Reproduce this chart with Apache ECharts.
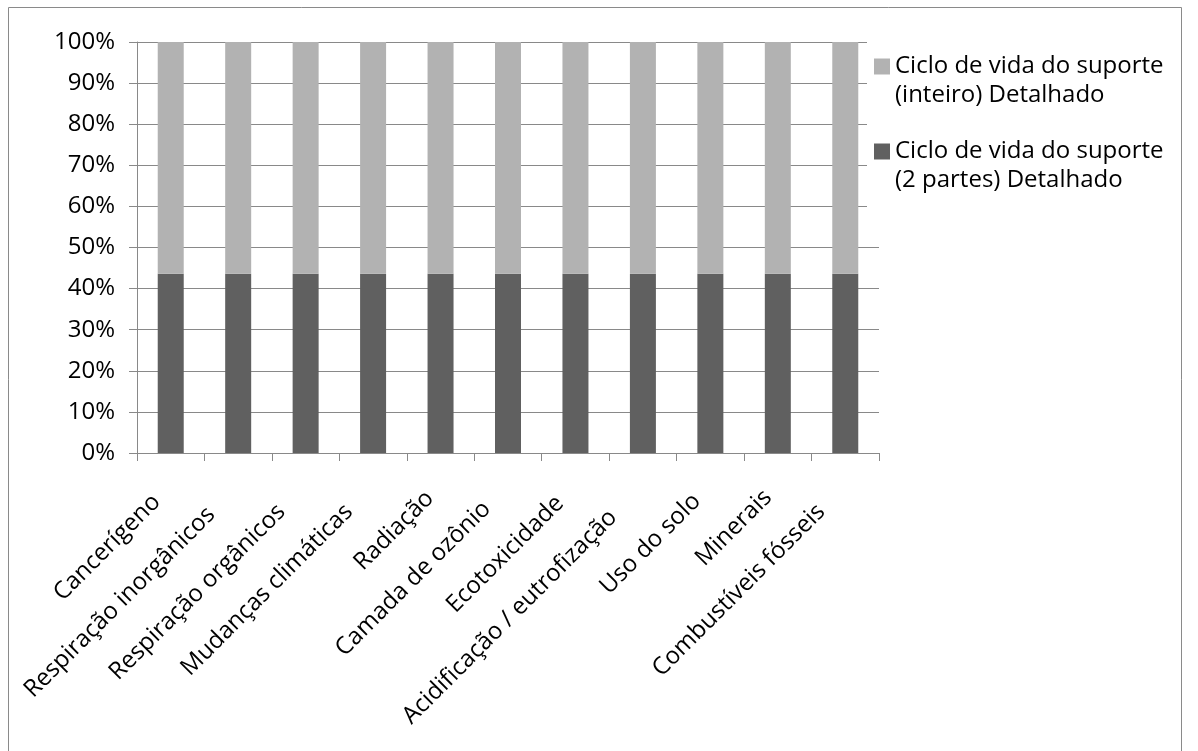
<!DOCTYPE html>
<html>
<head>
<meta charset="utf-8">
<script src="https://cdn.jsdelivr.net/npm/echarts@6/dist/echarts.min.js"></script>
<style>
  html, body { margin: 0; padding: 0; background: #ffffff; }
  #chart { width: 1198px; height: 751px; }
</style>
</head>
<body>
<div id="chart"></div>
<script>
// Impact categories along the x axis
var categories = [
  'Cancerígeno',
  'Respiração inorgânicos',
  'Respiração orgânicos',
  'Mudanças climáticas',
  'Radiação',
  'Camada de ozônio',
  'Ecotoxicidade',
  'Acidificação / eutrofização',
  'Uso do solo',
  'Minerais',
  'Combustíveis fósseis'
];

// Share (%) of each life-cycle variant in every category
var suporte2Partes = [43.6, 43.6, 43.6, 43.6, 43.6, 43.6, 43.6, 43.6, 43.6, 43.6, 43.6];
var suporteInteiro = [56.4, 56.4, 56.4, 56.4, 56.4, 56.4, 56.4, 56.4, 56.4, 56.4, 56.4];

var seriesNames = [
  'Ciclo de vida do suporte\n(inteiro) Detalhado',
  'Ciclo de vida do suporte\n(2 partes) Detalhado'
];

var FONT = '"Open Sans", "Liberation Sans", sans-serif';
var FONT_SIZE = 24;
var AXIS_GRAY = '#898989';

// Rotated category labels stop a little short of their tick, the longer
// the label the further back along its slant; build one rich style per label.
var measureCtx = document.createElement('canvas').getContext('2d');
measureCtx.font = FONT_SIZE + 'px ' + FONT;
var labelRich = {};
categories.forEach(function (name, i) {
  var w = measureCtx.measureText(name).width;
  labelRich['l' + i] = {
    fontFamily: FONT,
    fontSize: FONT_SIZE,
    color: '#000000',
    padding: [0, Math.round(w * 0.145), 0, 0]
  };
});

var chart = echarts.init(document.getElementById('chart'), null, { renderer: 'canvas' });

chart.setOption({
  animation: false,
  backgroundColor: '#ffffff',
  textStyle: { fontFamily: FONT },
  grid: { left: 137, right: 319, top: 42, bottom: 298, containLabel: false },
  legend: {
    orient: 'vertical',
    left: 867,
    top: 20,
    padding: [3, 6, 14, 7],
    backgroundColor: '#ffffff',
    itemWidth: 16,
    itemHeight: 16,
    itemGap: -2,
    icon: 'rect',
    data: [seriesNames[0], seriesNames[1]],
    // a blank leading line keeps the swatch level with the first text line
    formatter: function (name) {
      return '\n' + name;
    },
    textStyle: {
      fontFamily: FONT,
      fontSize: FONT_SIZE,
      color: '#000000',
      lineHeight: 29
    }
  },
  xAxis: {
    type: 'category',
    data: categories,
    boundaryGap: true,
    axisLine: { show: true, lineStyle: { color: AXIS_GRAY, width: 1 } },
    axisTick: { show: true, alignWithLabel: false, length: 8, lineStyle: { color: AXIS_GRAY } },
    splitLine: { show: false },
    axisLabel: {
      interval: 0,
      rotate: 45,
      margin: 31,
      fontFamily: FONT,
      fontSize: FONT_SIZE,
      color: '#000000',
      formatter: function (value, index) {
        return '{l' + index + '|' + value + '}';
      },
      rich: labelRich
    }
  },
  yAxis: {
    type: 'value',
    min: 0,
    max: 100,
    interval: 10,
    axisLine: { show: true, lineStyle: { color: AXIS_GRAY, width: 1 } },
    axisTick: { show: true, length: 8, inside: false, lineStyle: { color: AXIS_GRAY } },
    splitLine: { show: true, lineStyle: { color: AXIS_GRAY, width: 1 } },
    axisLabel: {
      margin: 22,
      fontFamily: FONT,
      fontSize: FONT_SIZE,
      color: '#000000',
      formatter: '{value}%'
    }
  },
  series: [
    {
      name: seriesNames[1],
      type: 'bar',
      stack: 'total',
      data: suporte2Partes,
      barWidth: 26,
      itemStyle: { color: '#606060' }
    },
    {
      name: seriesNames[0],
      type: 'bar',
      stack: 'total',
      data: suporteInteiro,
      barWidth: 26,
      itemStyle: { color: '#b2b2b2' }
    }
  ],
  graphic: [
    {
      type: 'rect',
      z: 100,
      silent: true,
      shape: { x: 8.5, y: 7.5, width: 1173, height: 800 },
      style: { fill: 'none', stroke: '#8a8a8a', lineWidth: 1 }
    }
  ]
});
</script>
</body>
</html>
